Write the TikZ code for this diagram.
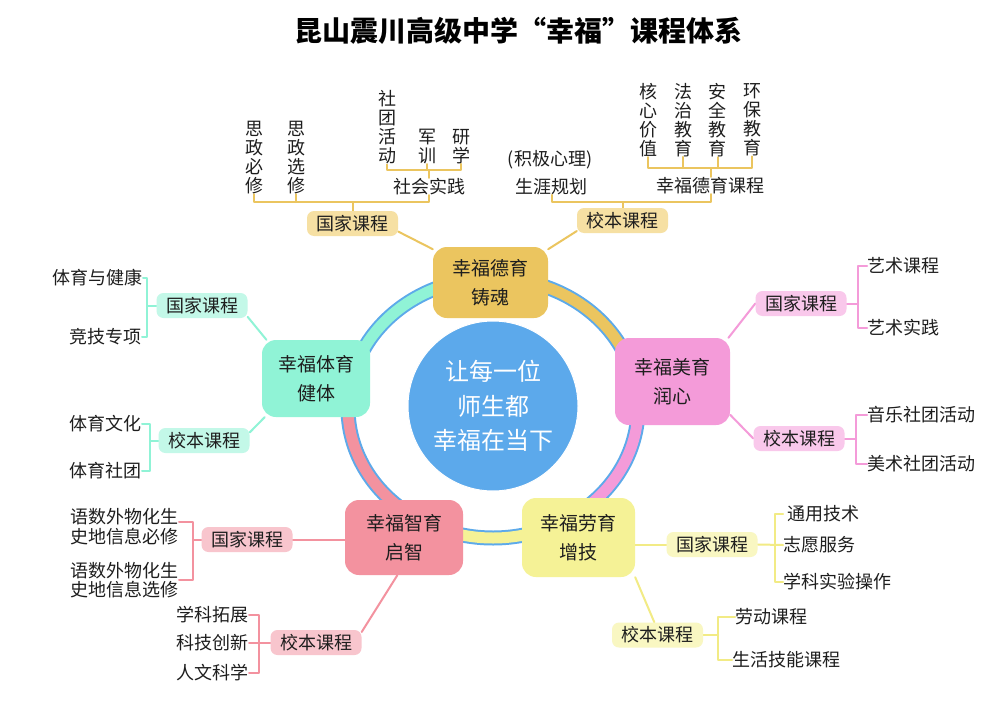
\documentclass[tikz,border=0pt]{standalone}
\usepackage{fontspec}
\setmainfont{Noto Sans CJK SC}
\usetikzlibrary{calc}
\definecolor{ringblue}{HTML}{5DAAEA}
\definecolor{cblue}{HTML}{5CA9EB}
\definecolor{cgold}{HTML}{EBC55F}
\definecolor{cgoldl}{HTML}{F6E0A3}
\definecolor{cpink}{HTML}{F49BD9}
\definecolor{cpinkl}{HTML}{F9C8EB}
\definecolor{cyel}{HTML}{F5F296}
\definecolor{cyell}{HTML}{F9F7C2}
\definecolor{cyelln}{HTML}{F2EB85}
\definecolor{crose}{HTML}{F3929F}
\definecolor{crosel}{HTML}{F8C5CD}
\definecolor{cmint}{HTML}{90F3D6}
\definecolor{cmintl}{HTML}{C3F8E8}
\definecolor{ink}{HTML}{1E1E1E}
\pgfdeclarelayer{bg}
\pgfsetlayers{bg,main}
\begin{document}
\begin{tikzpicture}[x=1pt,y=-1pt,
  mainbox/.style={rounded corners=14pt, inner sep=0pt, align=center, font=\fontsize{19pt}{28.5pt}\selectfont, text=ink},
  subbox/.style={rounded corners=7pt, minimum width=91pt, minimum height=25pt, inner sep=0pt, font=\fontsize{18pt}{19pt}\selectfont, text=ink},
  leaf/.style={inner sep=0pt, font=\fontsize{18pt}{19pt}\selectfont, text=ink, align=center},
  ln/.style={line width=2pt, line cap=round, line join=round},
]
\begin{pgfonlayer}{bg}
\fill[white] (0,0) rectangle (996,704);
\end{pgfonlayer}
\useasboundingbox (0,0) rectangle (996,704);

% title
\node[font=\fontsize{28pt}{28pt}\selectfont\bfseries, text=black] (title) at (518,31) {昆山震川高级中学“幸福”课程体系};

% centre
\node[circle, fill=cblue, draw=white, line width=1pt, minimum size=170pt, inner sep=0pt, text=white, align=center, font=\fontsize{24pt}{34.5pt}\selectfont] (ctr) at (493,406) {让每一位\\师生都\\幸福在当下};

% main topics
\node[mainbox, fill=cgold, minimum width=115pt, minimum height=71pt] (dy) at (490.5,282.5) {幸福德育\\铸魂};
\node[mainbox, fill=cpink, minimum width=115pt, minimum height=87pt] (my) at (672.5,381.5) {幸福美育\\润心};
\node[mainbox, fill=cyel, minimum width=113pt, minimum height=79pt] (ly) at (578.5,537.5) {幸福劳育\\增技};
\node[mainbox, fill=crose, minimum width=118pt, minimum height=75pt] (zy) at (404,537.5) {幸福智育\\启智};
\node[mainbox, fill=cmint, minimum width=108pt, minimum height=77pt] (ty) at (316,378.5) {幸福体育\\健体};

% sub boxes
\node[subbox, fill=cgoldl] (dgj) at (352.5,223.5) {国家课程};
\node[subbox, fill=cgoldl] (dxb) at (622.5,220.5) {校本课程};
\node[subbox, fill=cmintl] (tgj) at (202,305.5) {国家课程};
\node[subbox, fill=cmintl] (txb) at (204,440.5) {校本课程};
\node[subbox, fill=cpinkl] (mgj) at (801,303.5) {国家课程};
\node[subbox, fill=cpinkl] (mxb) at (799,438.5) {校本课程};
\node[subbox, fill=cyell] (lgj) at (712,544.5) {国家课程};
\node[subbox, fill=cyell] (lxb) at (657.5,635) {校本课程};
\node[subbox, fill=crosel] (zgj) at (247,539.5) {国家课程};
\node[subbox, fill=crosel] (zxb) at (316,642.5) {校本课程};

% top leaves
\node[leaf] (d1) at (254,157.5) {思\\政\\必\\修};
\node[leaf] (d2) at (296,157.5) {思\\政\\选\\修};
\node[leaf] (d3) at (429,186.5) {社会实践};
\node[leaf] (d31) at (387,127.5) {社\\团\\活\\动};
\node[leaf] (d32) at (427,146.5) {军\\训};
\node[leaf] (d33) at (461,146.5) {研\\学};
\node[leaf] (d4) at (550,159.5) {(积极心理)};
\node[leaf] (d5) at (551.5,186.5) {生涯规划};
\node[leaf] (d6) at (710.5,185.5) {幸福德育课程};
\node[leaf] (d61) at (648,120) {核\\心\\价\\值};
\node[leaf] (d62) at (683,120) {法\\治\\教\\育};
\node[leaf] (d63) at (717.5,120) {安\\全\\教\\育};
\node[leaf] (d64) at (752,120) {环\\保\\教\\育};

% left leaves
\node[leaf, anchor=east] (t1) at (143,278) {体育与健康};
\node[leaf, anchor=east] (t2) at (142,336.5) {竞技专项};
\node[leaf, anchor=east] (t3) at (142,423.5) {体育文化};
\node[leaf, anchor=east] (t4) at (142,471) {体育社团};

% right leaves
\node[leaf, anchor=west] (m1) at (867,266) {艺术课程};
\node[leaf, anchor=west] (m2) at (867,327.5) {艺术实践};
\node[leaf, anchor=west] (m3) at (867,414.5) {音乐社团活动};
\node[leaf, anchor=west] (m4) at (867,463.5) {美术社团活动};

% bottom right leaves
\node[leaf, anchor=west] (l1) at (787,513.5) {通用技术};
\node[leaf, anchor=west] (l2) at (783,545) {志愿服务};
\node[leaf, anchor=west] (l3) at (783,581.5) {学科实验操作};
\node[leaf, anchor=west] (l4) at (735,616.5) {劳动课程};
\node[leaf, anchor=west] (l5) at (732,660) {生活技能课程};

% bottom left leaves
\node[leaf, anchor=east, font=\fontsize{18pt}{19.5pt}\selectfont] (z1) at (179,526.5) {语数外物化生\\史地信息必修};
\node[leaf, anchor=east, font=\fontsize{18pt}{19.5pt}\selectfont] (z2) at (179,580) {语数外物化生\\史地信息选修};
\node[leaf, anchor=east] (z3) at (249,615) {学科拓展};
\node[leaf, anchor=east] (z4) at (249,642.5) {科技创新};
\node[leaf, anchor=east] (z5) at (249,672.5) {人文科学};

\coordinate (h1) at (0,202);
\coordinate (h2) at (0,170);
\coordinate (h3) at (0,168);
\coordinate (v1) at (147,0);
\coordinate (v2) at (150,0);
\coordinate (v3) at (858,0);
\coordinate (v4) at (856,0);
\coordinate (v5) at (775,0);
\coordinate (v6) at (718,0);
\coordinate (v7) at (193,0);
\coordinate (v8) at (259,0);

\begin{pgfonlayer}{bg}
% ring
\foreach \a/\b in {-90/-10, -10/59, 59/122, 122/191, 191/270}{
  \draw[ringblue, line width=15pt] plot[domain=\a:\b, samples=60] ({493+145*cos(\x)},{408+130*sin(\x)});
}
\foreach \a/\b/\c in {-90/-10/cgold, -10/59/cpink, 59/122/cyel, 122/191/crose, 191/270/cmint}{
  \draw[\c, line width=11pt] plot[domain=\a:\b, samples=60] ({493+145*cos(\x)},{408+130*sin(\x)});
}

% gold
\draw[ln,cgold] (d1.south) -- (d1.south |- h1) -- (d3.south |- h1) -- (d3.south);
\draw[ln,cgold] (d2.south) -- (d2.south |- h1);
\draw[ln,cgold] (dgj.north) -- (dgj.north |- h1);
\draw[ln,cgold] (d31.south) -- (d31.south |- h2) -- (d33.south |- h2) -- (d33.south);
\draw[ln,cgold] (d32.south) -- (d32.south |- h2);
\draw[ln,cgold] (d3.north) -- (d3.north |- h2);
\draw[ln,cgold] (d5.south) -- (d5.south |- h1) -- (d6.south |- h1) -- (d6.south);
\draw[ln,cgold] (dxb.north) -- (dxb.north |- h1);
\draw[ln,cgold] (d61.south) -- (d61.south |- h3) -- (d64.south |- h3) -- (d64.south);
\draw[ln,cgold] (d62.south) -- (d62.south |- h3);
\draw[ln,cgold] (d63.south) -- (d63.south |- h3);
\draw[ln,cgold] (d6.north) -- (d6.north |- h3);
\draw[ln,cgold] (dgj.-10) -- (dy.150);
\draw[ln,cgold] (dxb.193) -- (dy.30);

% mint
\draw[ln,cmint] (t1.east) -- (t1.east -| v1) -- (t2.east -| v1) -- (t2.east);
\draw[ln,cmint] (tgj.west) -- (tgj.west -| v1);
\draw[ln,cmint] (t3.east) -- (t3.east -| v2) -- (t4.east -| v2) -- (t4.east);
\draw[ln,cmint] (txb.west) -- (txb.west -| v2);
\draw[ln,cmint] (tgj.-14) -- (ty.142);
\draw[ln,cmint] (txb.10) -- (ty.217);

% pink
\draw[ln,cpink] (m1.west) -- (m1.west -| v3) -- (m2.west -| v3) -- (m2.west);
\draw[ln,cpink] (mgj.east) -- (mgj.east -| v3);
\draw[ln,cpink] (m3.west) -- (m3.west -| v4) -- (m4.west -| v4) -- (m4.west);
\draw[ln,cpink] (mxb.east) -- (mxb.east -| v4);
\draw[ln,cpink] (my.38) -- (mgj.west);
\draw[ln,cpink] (my.-30) -- (mxb.west);

% yellow
\draw[ln,cyelln] ([xshift=-4pt]l1.west) -- (l1.west -| v5) -- (l3.west -| v5) -- (l3.west);
\draw[ln,cyelln] (lgj.east) -- (l2.west);
\draw[ln,cyelln] (ly.east |- lgj.west) -- (lgj.west);
\draw[ln,cyelln] (l4.west) -- (l4.west -| v6) -- (l5.west -| v6) -- (l5.west);
\draw[ln,cyelln] (lxb.east) -- (lxb.east -| v6);
\draw[ln,cyelln] (ly.-35) -- (lxb.104);

% rose
\draw[ln,crose] (z1.5) -- (z1.5 -| v7) -- (z2.east -| v7) -- (z2.east);
\draw[ln,crose] (zgj.west) -- (zgj.west -| v7);
\draw[ln,crose] (z3.east) -- (z3.east -| v8) -- (z5.east -| v8) -- (z5.east);
\draw[ln,crose] (z4.east) -- (zxb.west);
\draw[ln,crose] (zgj.east) -- (zgj.east -| zy.west);
\draw[ln,crose] (zxb.13) -- (zy.260);
\end{pgfonlayer}
\end{tikzpicture}
\end{document}
